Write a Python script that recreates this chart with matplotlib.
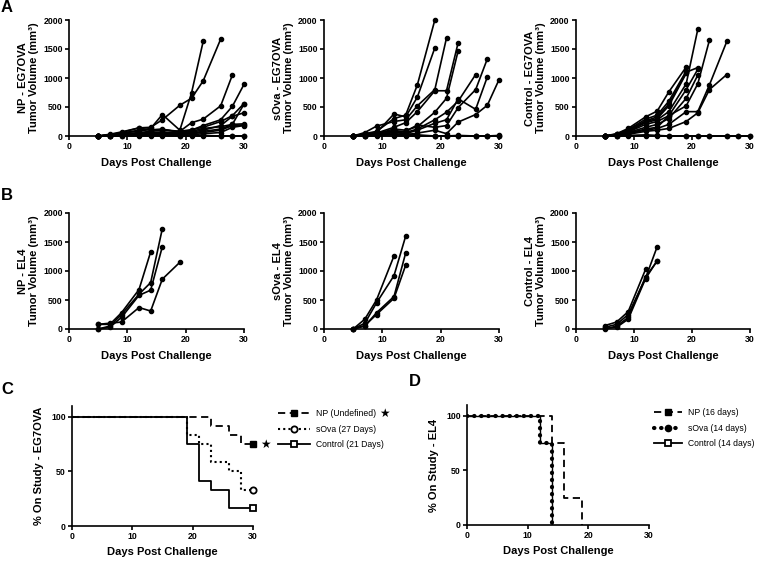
import matplotlib.pyplot as plt
from matplotlib.lines import Line2D

plt.rcParams['font.family'] = ['Liberation Sans', 'DejaVu Sans']

# ---- tumor growth data (mm^3), one list per mouse, aligned to measurement days
days_eg = [5, 7, 9, 12, 14, 16, 19, 21, 23, 26, 28, 30]
days_el = [5, 7, 9, 12, 14, 16, 19]

np_eg7ova = [
    [0, 20, 50, 100, 130, 370, 100, 740, 1630],
    [0, 30, 70, 140, 150, 280, 530, 650, 950, 1670],
    [0, 10, 40, 90, 110, 110, 80, 230, 290, 520, 1050],
    [0, 20, 60, 140, 100, 120, 60, 100, 180, 280, 510, 890],
    [0, 10, 30, 60, 80, 100, 80, 110, 150, 250, 350, 560],
    [0, 10, 30, 50, 60, 70, 50, 80, 130, 160, 200, 550],
    [0, 10, 20, 40, 50, 60, 40, 70, 100, 180, 340, 400],
    [0, 0, 20, 30, 40, 50, 30, 50, 80, 120, 200, 210],
    [0, 0, 10, 20, 30, 30, 20, 40, 60, 100, 180, 190],
    [0, 0, 10, 20, 20, 20, 10, 20, 40, 60, 150, 180],
    [0, 0, 0, 10, 10, 10, 0, 10, 10, 0, 0, 0],
    [0, 0, 0, 0, 0, 0, 0, 0, 0, 0, 0, 0],
]
sova_eg7ova = [
    [0, 40, 80, 300, 360, 880, 2000],
    [0, 30, 60, 380, 330, 670, 1520],
    [0, 60, 170, 250, 280, 520, 800, 1690],
    [0, 20, 50, 150, 230, 420, 780, 780, 1610],
    [0, 10, 40, 120, 100, 160, 410, 650, 1470],
    [0, 10, 30, 100, 60, 120, 280, 410, 600, 1060],
    [0, 20, 40, 80, 80, 190, 150, 180, 490, 800, 1330],
    [0, 0, 20, 60, 40, 100, 220, 280, 640, 460, 1020],
    [0, 0, 10, 40, 20, 50, 100, 40, 240, 370, 530, 970],
    [0, 10, 20, 80, 40, 20, 0, 0, 0, 0, 0, 0],
    [0, 0, 10, 30, 10, 0, 0, 0, 10, 0, 0, 10],
    [0, 0, 0, 0, 0, 0, 0, 0, 0, 0, 0, 0],
]
ctrl_eg7ova = [
    [0, 40, 130, 330, 430, 760, 1190],
    [0, 30, 110, 290, 360, 600, 1120],
    [0, 20, 90, 250, 300, 520, 1080],
    [0, 20, 80, 230, 280, 420, 900, 1840],
    [0, 30, 100, 260, 330, 550, 1100, 1180],
    [0, 20, 70, 200, 250, 350, 800, 1150],
    [0, 10, 60, 150, 200, 300, 650, 1050],
    [0, 10, 50, 120, 150, 350, 520, 900, 1650],
    [0, 10, 40, 100, 130, 200, 420, 420, 880, 1630],
    [0, 0, 30, 80, 100, 130, 250, 400, 800, 1060],
    [0, 0, 10, 20, 10, 0, 0, 0, 0, 0, 0, 0],
    [0, 0, 0, 0, 0, 0, 0, 0, 0, 0, 0, 0],
]
np_el4 = [
    [80, 80, 280, 680, 1330],
    [0, 50, 250, 600, 800, 1730],
    [0, 30, 200, 580, 670, 1420],
    [80, 100, 120, 370, 310, 860, 1150],
]
sova_el4 = [
    [0, 170, 500, 1260],
    [0, 100, 450, 920, 1600],
    [0, 50, 280, 560, 1310],
    [0, 60, 250, 530, 1100],
]
ctrl_el4 = [
    [60, 120, 300, 1030],
    [30, 80, 250, 880, 1420],
    [0, 50, 200, 900, 1170],
    [10, 30, 170, 870, 1180],
]

# ---- survival (% on study)
surv_c_np_t = [0, 23, 26, 28, 30]
surv_c_np = [100, 91.7, 83.3, 75, 75]
surv_c_sova_t = [0, 19, 21, 23, 26, 28, 30]
surv_c_sova = [100, 83.3, 75, 58.3, 50, 33.3, 33.3]
surv_c_ctrl_t = [0, 19, 21, 23, 26, 30]
surv_c_ctrl = [100, 75, 41.7, 33.3, 16.7, 16.7]

surv_d_np_t = [0, 14, 16, 19]
surv_d_np = [100, 75, 25, 0]
surv_d_sova_t = [0, 12, 14]
surv_d_sova = [100, 75, 0]
surv_d_ctrl_t = [0, 12, 14]
surv_d_ctrl = [100, 75, 0]

W, H = 764, 561
fig = plt.figure(figsize=(W / 100, H / 100), dpi=100)


def px_axes(left, top, right, bottom):
    return fig.add_axes([left / W, 1 - bottom / H, (right - left) / W,
                         (bottom - top) / H])


def style(ax):
    for s in ['top', 'right']:
        ax.spines[s].set_visible(False)
    for s in ['left', 'bottom']:
        ax.spines[s].set_linewidth(1.2)
    ax.tick_params(direction='out', length=3, width=1.2, labelsize=6.3, pad=1.5)
    for lab in ax.get_xticklabels() + ax.get_yticklabels():
        lab.set_fontweight('bold')


def tumor_panel(ax, days, mice, ylabel):
    for m in mice:
        ax.plot(days[:len(m)], m, '-o', color='k', lw=1.2, ms=3, clip_on=False,
                zorder=3)
    ax.set_xlim(0, 30)
    ax.set_ylim(0, 2000)
    ax.set_xticks([0, 10, 20, 30])
    ax.set_yticks([0, 500, 1000, 1500, 2000])
    ax.set_xlabel('Days Post Challenge', fontsize=8, fontweight='bold',
                  labelpad=5)
    ax.set_ylabel(ylabel, fontsize=8, fontweight='bold', labelpad=3,
                  linespacing=1.1)
    style(ax)


lefts = [(69, 244), (324, 499), (576, 750)]
row_a = [np_eg7ova, sova_eg7ova, ctrl_eg7ova]
row_b = [np_el4, sova_el4, ctrl_el4]
names = ['NP', 'sOva', 'Control']
for (l, r), mice, name in zip(lefts, row_a, names):
    ax = px_axes(l, 20, r, 136)
    tumor_panel(ax, days_eg, mice, name + ' - EG7OVA\nTumor Volume (mm³)')
for (l, r), mice, name in zip(lefts, row_b, names):
    ax = px_axes(l, 213, r, 329)
    tumor_panel(ax, days_el, mice, name + ' - EL4\nTumor Volume (mm³)')

np_ls = (0, (4, 2.5))
sova_ls_c = (0, (1, 1.5))
sova_ls_d = (0, (0.1, 1.6))

# ---- panel C
axc = px_axes(72, 406, 253, 526)
axc.step(surv_c_np_t, surv_c_np, where='post', color='k', lw=1.3, ls=np_ls)
axc.step(surv_c_sova_t, surv_c_sova, where='post', color='k', lw=1.5,
         ls=sova_ls_c)
axc.step(surv_c_ctrl_t, surv_c_ctrl, where='post', color='k', lw=1.3)
axc.plot(surv_c_np_t[-1], surv_c_np[-1], 's', color='k', ms=4, clip_on=False)
axc.plot(surv_c_sova_t[-1], surv_c_sova[-1], 'o', mfc='white', mec='k', mew=1.3,
         ms=4.5, clip_on=False)
axc.plot(surv_c_ctrl_t[-1], surv_c_ctrl[-1], 's', mfc='white', mec='k', mew=1.3,
         ms=5, clip_on=False)
axc.text(31.2, surv_c_np[-1], '★', fontsize=8.5, ha='left', va='center',
         family=['DejaVu Sans'])
axc.set_xlim(0, 30)
axc.set_ylim(0, 110)
axc.set_xticks([0, 10, 20, 30])
axc.set_yticks([0, 50, 100])
axc.set_xlabel('Days Post Challenge', fontsize=8, fontweight='bold',
               labelpad=4)
axc.set_ylabel('% On Study - EG7OVA', fontsize=8, fontweight='bold',
               labelpad=5)
style(axc)
handles_c = [
    Line2D([], [], color='k', lw=1.3, ls=np_ls, marker='s', ms=4),
    Line2D([], [], color='k', lw=1.5, ls=sova_ls_c, marker='o', mfc='white',
           mec='k', mew=1.3, ms=4.5),
    Line2D([], [], color='k', lw=1.3, marker='s', mfc='white', mec='k',
           mew=1.3, ms=5),
]
axc.legend(handles_c, ['NP (Undefined)', 'sOva (27 Days)', 'Control (21 Days)'],
           loc='upper left', bbox_to_anchor=(1.12, 1.0), frameon=False,
           fontsize=6.2, handlelength=3.7, handletextpad=0.7,
           labelspacing=0.75, borderaxespad=0)
fig.text(384 / W, 1 - 413 / H, '★', fontsize=8.5, ha='center', va='center',
         family=['DejaVu Sans'])

# ---- panel D
axd = px_axes(467, 405, 649, 525)
axd.step(surv_d_np_t, surv_d_np, where='post', color='k', lw=1.3, ls=np_ls)
axd.step(surv_d_ctrl_t, surv_d_ctrl, where='post', color='k', lw=1.0)
axd.step(surv_d_sova_t, surv_d_sova, where='post', color='k', lw=3.0,
         ls=sova_ls_d, dash_capstyle='round')
axd.set_xlim(0, 30)
axd.set_ylim(0, 110)
axd.set_xticks([0, 10, 20, 30])
axd.set_yticks([0, 50, 100])
axd.set_xlabel('Days Post Challenge', fontsize=8, fontweight='bold',
               labelpad=4)
axd.set_ylabel('% On Study - EL4', fontsize=8, fontweight='bold', labelpad=5)
style(axd)
handles_d = [
    Line2D([], [], color='k', lw=1.3, ls=np_ls, marker='s', ms=4),
    Line2D([], [], color='k', lw=3.0, ls=sova_ls_d, dash_capstyle='round',
           marker='o', mfc='k', mec='k', ms=4.5),
    Line2D([], [], color='k', lw=1.3, marker='s', mfc='white', mec='k',
           mew=1.3, ms=5),
]
axd.legend(handles_d, ['NP (16 days)', 'sOva (14 days)', 'Control (14 days)'],
           loc='upper left', bbox_to_anchor=(1.01, 1.0), frameon=False,
           fontsize=6.2, handlelength=3.2, handletextpad=0.7,
           labelspacing=0.75, borderaxespad=0)

# panel letters
for letter, x, y in [('A', 7, 8), ('B', 7, 196), ('C', 7, 389), ('D', 415, 381)]:
    fig.text(x / W, 1 - y / H, letter, fontsize=12, fontweight='bold',
             ha='center', va='center')

fig.savefig('out.png', dpi=100)
